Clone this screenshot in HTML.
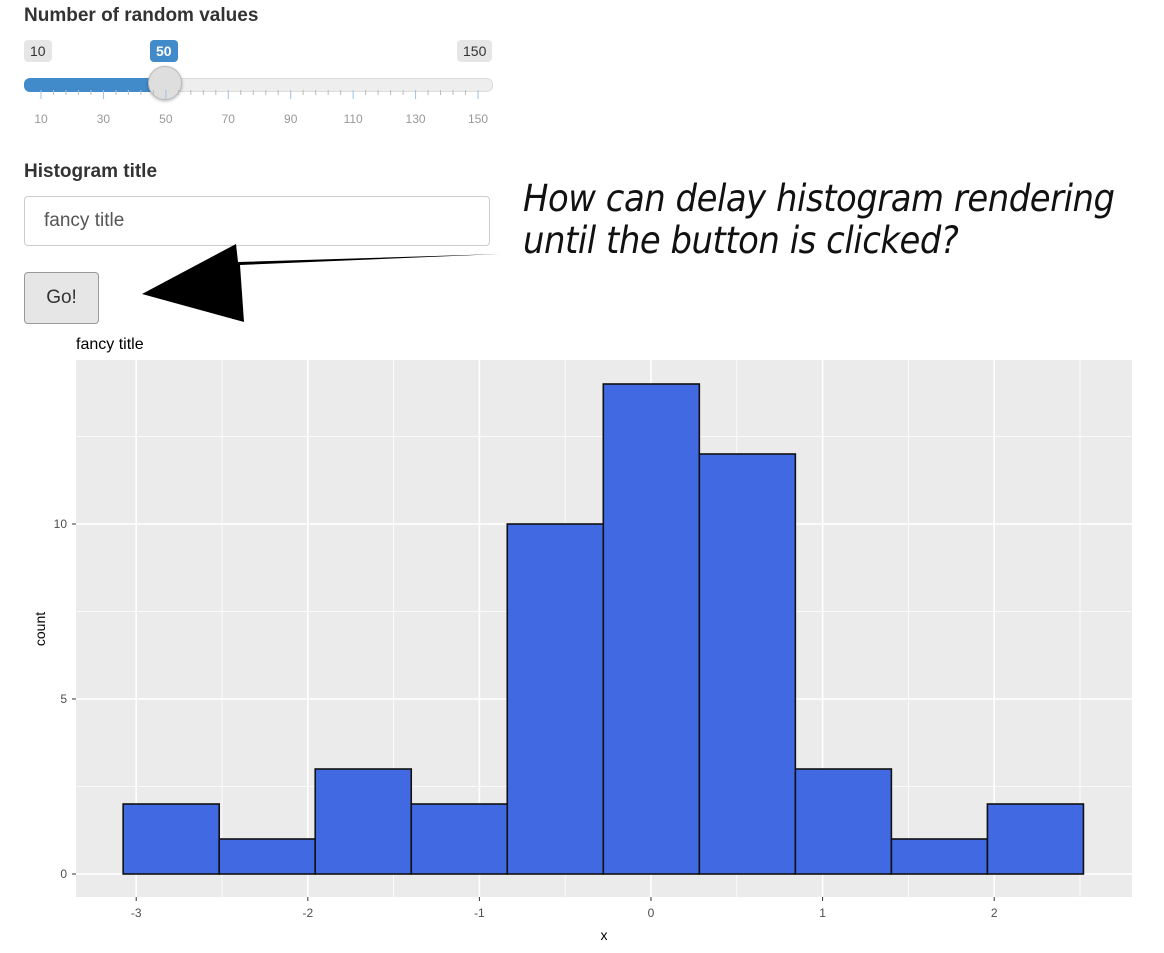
<!DOCTYPE html>
<html><head><meta charset="utf-8"><style>
body{margin:0;width:1164px;height:953px;background:#fff;font-family:"Liberation Sans",sans-serif;position:relative;overflow:hidden}
.abs{position:absolute}
.lbl{font-weight:bold;font-size:19px;color:#333}
.badge{position:absolute;top:40px;height:22px;line-height:22px;font-size:14px;padding:0 6px;border-radius:4px;background:#e6e6e6;color:#333}
</style></head><body>
<div class="abs lbl" style="left:24px;top:5px">Number of random values</div>
<div class="badge" style="left:24px">10</div>
<div class="badge" style="left:150px;background:#428bca;color:#fff;font-weight:bold">50</div>
<div class="badge" style="left:457px">150</div>
<div class="abs" style="left:24px;top:78px;width:467px;height:12px;border-radius:6px;background:#eee;border:1px solid #ddd"></div>
<div class="abs" style="left:24px;top:78px;width:142px;height:14px;border-radius:6px 0 0 6px;background:#428bca"></div>
<div class="abs" style="left:148px;top:66px;width:32px;height:32px;border-radius:50%;background:#dedede;border:1px solid #bbb;box-shadow:0 1px 3px rgba(0,0,0,.3)"></div>
<svg class="abs" style="left:0;top:90px" width="500" height="40" id="tk"></svg>
<div class="abs lbl" style="left:24px;top:161px">Histogram title</div>
<div class="abs" style="left:24px;top:196px;width:466px;height:50px;border:1px solid #ccc;border-radius:4px;box-sizing:border-box;padding-left:19px;line-height:48px;font-size:19px;color:#555">fancy title</div>
<div class="abs" style="left:24px;top:272px;width:75px;height:52px;border:1px solid #999;border-radius:4px;box-sizing:border-box;background:#e6e6e6;text-align:center;line-height:50px;font-size:19px;color:#333">Go!</div>
<div class="abs" style="left:523px;top:178px;font-size:37px;font-style:italic;color:#111;line-height:42px;font-family:'DejaVu Sans','Liberation Sans',sans-serif;letter-spacing:-0.5px;transform:scaleX(0.915);transform-origin:left top;white-space:nowrap">How can delay histogram rendering<br>until the button is clicked?</div>
<svg class="abs" style="left:0;top:0" width="1164" height="953">
<polygon points="500,254 240,265 244,322 142,294 236,244 238,262" fill="#000"/>
</svg>
<svg class="abs" style="left:0;top:0" width="1164" height="953" id="chart"></svg>
<script>
const binStart=-3.076, binWidth=0.5596;
const counts=[2,1,3,2,10,14,12,3,1,2];
const xTicks=[-3,-2,-1,0,1,2];
const yTicks=[0,5,10];
const chartTitle="fancy title";
const NS="http://www.w3.org/2000/svg";
const X=v=>651+v*171.6, Y=v=>874-v*35;
const L=76,R=1132,T=360,B=897;
const svg=document.getElementById('chart');
function mk(t,a,p){const e=document.createElementNS(NS,t);for(const k in a)e.setAttribute(k,a[k]);(p||svg).appendChild(e);return e;}
const bg=mk('rect',{x:L,y:T,width:R-L,height:B-T,fill:'#ebebeb'});


for(let i=0;i<xTicks.length;i++){const v=xTicks[i];
 for(const m of [v, v+0.5]){const x=X(m);if(x<L||x>R)continue;
  const g=mk('line',{x1:x,x2:x,y1:T,y2:B,stroke:'#fff','stroke-width':m===v?1.6:0.8});
  
  }
 const t=mk('text',{x:X(v),y:917,'text-anchor':'middle','font-size':12,fill:'#4d4d4d'});t.textContent=v;
 
 
 mk('line',{x1:X(v),x2:X(v),y1:B,y2:B+4,stroke:'#333'});
}
for(let i=0;i<yTicks.length;i++){const v=yTicks[i];
 for(const m of [v,v+2.5]){const y=Y(m);if(y<T)continue;
  const g=mk('line',{x1:L,x2:R,y1:y,y2:y,stroke:'#fff','stroke-width':m===v?1.6:0.8});
  
  }
 const t=mk('text',{x:67,y:Y(v)+4,'text-anchor':'end','font-size':12,fill:'#4d4d4d'});t.textContent=v;
 
 
 mk('line',{x1:L-4,x2:L,y1:Y(v),y2:Y(v),stroke:'#333'});
}
for(let i=0;i<counts.length;i++){const x0=X(binStart+i*binWidth),x1=X(binStart+(i+1)*binWidth);
 const r=mk('rect',{x:x0,y:Y(counts[i]),width:x1-x0,height:Y(0)-Y(counts[i]),fill:'#4169e1',stroke:'#111','stroke-width':1.6});
 
 }
let t=mk('text',{x:76,y:349,'font-size':16,fill:'#000'});t.textContent=chartTitle;


t=mk('text',{x:604,y:940,'text-anchor':'middle','font-size':14,fill:'#000'});t.textContent='x';


t=mk('text',{x:45,y:629,'text-anchor':'middle','font-size':14,fill:'#000',transform:'rotate(-90 45 629)'});t.textContent='count';


const tk=document.getElementById('tk');
const sliderLabels=[10,30,50,70,90,110,130,150];
const SX=v=>41+(v-10)*(478-41)/140;
for(let v=10;v<=150;v+=4){const major=(v-10)%20===0;
 mk('line',{x1:SX(v),x2:SX(v),y1:0,y2:major?9:5,stroke:major?'#9dc1e3':'#bbb','stroke-width':1},tk);}
for(const v of sliderLabels){const e=mk('text',{x:SX(v),y:33,'text-anchor':'middle','font-size':12,fill:'#999'},tk);e.textContent=v;
 
 }
</script>
</body></html>
